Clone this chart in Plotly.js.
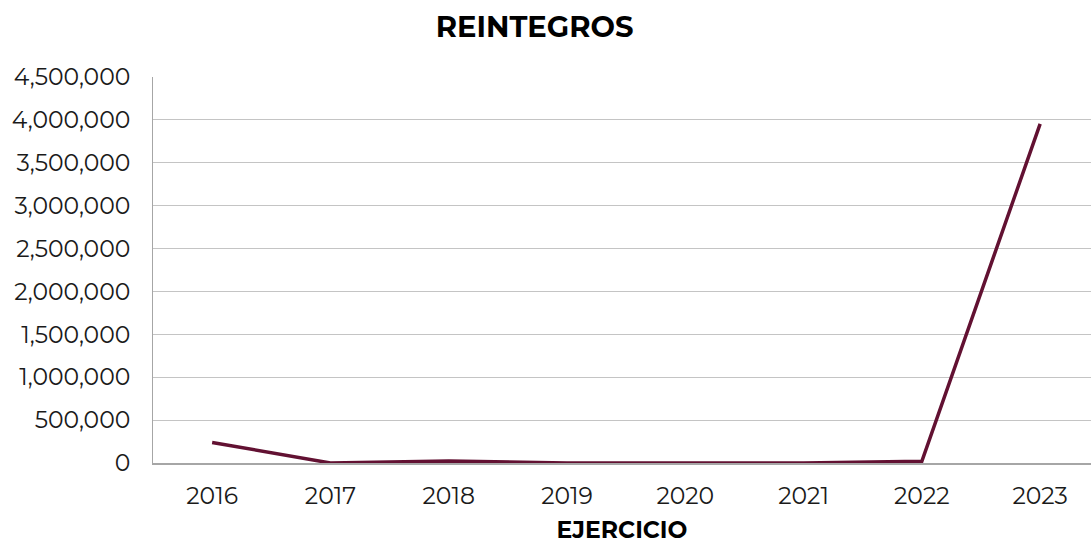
<!DOCTYPE html>
<html>
<head>
<meta charset="utf-8">
<script src="https://cdn.plot.ly/plotly-3.0.1.min.js"></script>
<style>html,body{margin:0;padding:0;background:#fff;}#chart{width:1091px;height:544px;}</style>
</head>
<body>
<div id="chart"></div>
<script>
const years = ["2016","2017","2018","2019","2020","2021","2022","2023"];
const reintegros = [240000, 0, 22000, 0, 0, 0, 20000, 3953000];
const yTicks = [0,500000,1000000,1500000,2000000,2500000,3000000,3500000,4000000,4500000];
const yTickText = ["0","500,000","1,000,000","1,500,000","2,000,000","2,500,000","3,000,000","3,500,000","4,000,000","4,500,000"];

const fontFam = "Montserrat, 'Open Sans', 'Noto Sans', sans-serif";
Plotly.newPlot('chart', [{
  x: years, y: reintegros, type: 'scatter', mode: 'lines',
  line: {color: '#621132', width: 3.5}, hoverinfo: 'x+y'
}], {
  width: 1091, height: 544,
  margin: {l: 153, r: 0, t: 77, b: 81},
  paper_bgcolor: '#ffffff', plot_bgcolor: '#ffffff',
  font: {family: fontFam, color: '#1a1a1a', size: 23},
  title: {text: '<b>REINTEGROS</b>', x: 0.49, xanchor: 'center', y: 0.95, yanchor: 'middle', font: {family: fontFam, size: 29, color: '#000'}},
  xaxis: {
    type: 'category', range: [-0.5, 7.43], showgrid: false,
    showline: true, linecolor: '#a6a6a6', linewidth: 1.5,
    ticks: '', ticklabelstandoff: 11, tickfont: {size: 23.5},
    title: {text: '<b>EJERCICIO</b>', standoff: 17, font: {size: 23.5, color: '#000'}},
    zeroline: false, fixedrange: true
  },
  yaxis: {
    range: [0, 4500000], tickvals: yTicks, ticktext: yTickText,
    showgrid: true, gridcolor: '#c4c4c4', gridwidth: 1,
    showline: true, linecolor: '#a6a6a6', linewidth: 1,
    ticks: '', ticklabelstandoff: 17, tickfont: {size: 23.5},
    zeroline: false, fixedrange: true
  },
  showlegend: false
}, {displayModeBar: false, staticPlot: true});
</script>
</body>
</html>
